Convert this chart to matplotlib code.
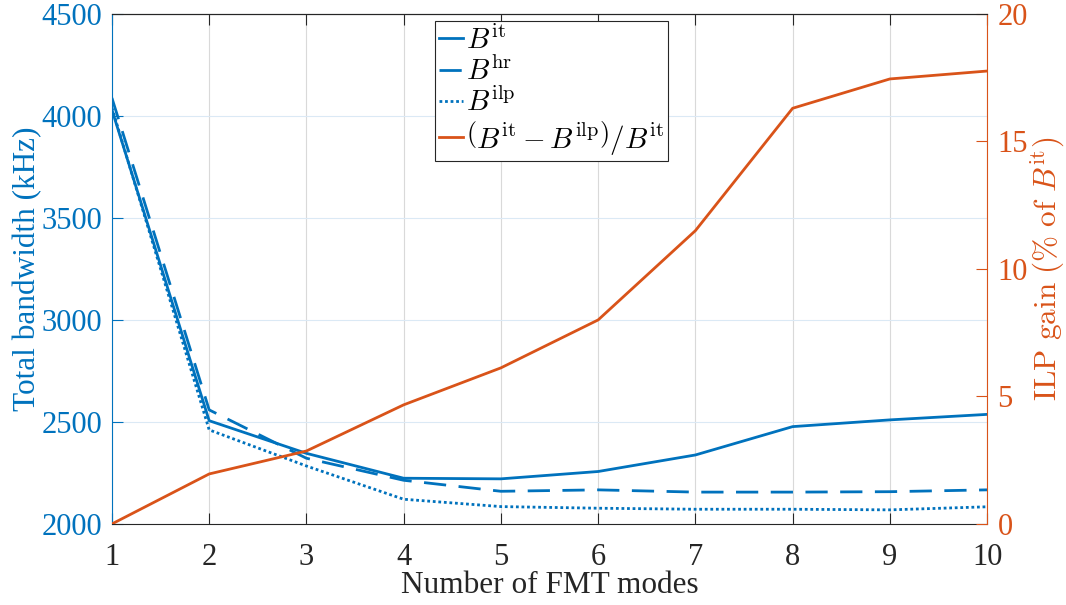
import numpy as np
import matplotlib.pyplot as plt
from matplotlib.lines import Line2D

plt.rcParams['font.family'] = ['Liberation Serif', 'DejaVu Serif']
plt.rcParams['mathtext.fontset'] = 'cm'

modes = [1, 2, 3, 4, 5, 6, 7, 8, 9, 10]
b_it = [4030, 2506, 2346, 2224, 2221, 2257, 2338, 2477, 2510, 2537]
b_hr = [4088, 2559, 2322, 2214, 2160, 2167, 2156, 2156, 2158, 2167]
b_ilp = [4040, 2461, 2284, 2121, 2085, 2077, 2072, 2072, 2069, 2084]
gain = [0.0, 1.96, 2.86, 4.67, 6.12, 8.0, 11.5, 16.3, 17.45, 17.76]

blue = '#0072BD'
orange = '#D95319'
dark = '#262626'

fig = plt.figure(figsize=(10.66, 6.05), dpi=100)
ax = fig.add_axes([0.105, 0.134, 0.821, 0.843])
ax2 = ax.twinx()

lw = 2.0
dashed = (0, (8, 4.5))
dotted = (0, (1, 1))
ax.plot(modes, b_it, color=blue, lw=lw, linestyle='-')
ax.plot(modes, b_hr, color=blue, lw=lw, linestyle=dashed)
ax.plot(modes, b_ilp, color=blue, lw=lw, linestyle=dotted)
ax2.plot(modes, gain, color=orange, lw=lw)

ax.set_xlim(1, 10)
ax.set_ylim(2000, 4500)
ax2.set_ylim(0, 20)
ax.set_xticks(modes)
ax.set_yticks(np.arange(2000, 4501, 500))
ax2.set_yticks([0, 5, 10, 15, 20])

# grid: vertical gray, horizontal tinted with left axis colour
ax.xaxis.grid(True, color='#d9d9d9', lw=0.8)
ax.yaxis.grid(True, color='#dbe9f5', lw=0.8)
ax.set_axisbelow(True)

for a in (ax, ax2):
    a.tick_params(direction='in', length=8, width=0.8, labelsize=22)
ax.tick_params(axis='x', top=True, colors=dark, pad=14)
ax.tick_params(axis='y', colors=blue, pad=7)
ax2.tick_params(axis='y', colors=orange, pad=7.5)

ax.spines['left'].set_color(blue)
ax.spines['right'].set_visible(False)
ax.spines['bottom'].set_color(dark)
ax.spines['top'].set_color(dark)
ax2.spines['left'].set_visible(False)
ax2.spines['right'].set_color(orange)
ax2.spines['bottom'].set_visible(False)
ax2.spines['top'].set_color(dark)

ax.set_xlabel('Number of FMT modes', fontsize=22.5, color=dark)
ax.set_ylabel('Total bandwidth (kHz)', fontsize=22.5, color=blue)
ax2.set_ylabel(r'$\mathrm{ILP\ gain\ (\%\ of\ }B^{\mathrm{it}}\mathrm{)}$',
               fontsize=22.5, color=orange)
ax.xaxis.set_label_coords(0.5, -0.092)
ax.yaxis.set_label_coords(-0.080, 0.5)
ax2.yaxis.set_label_coords(1.047, 0.5)

handles = [
    Line2D([], [], color=blue, lw=lw, linestyle='-'),
    Line2D([], [], color=blue, lw=lw, linestyle=dashed),
    Line2D([], [], color=blue, lw=lw, linestyle=dotted),
    Line2D([], [], color=orange, lw=lw),
]
labels = [r'$B^{\mathrm{it}}$', r'$B^{\mathrm{hr}}$', r'$B^{\mathrm{ilp}}$',
          r'$\left(B^{\mathrm{it}}-B^{\mathrm{ilp}}\right)/B^{\mathrm{it}}$']
leg = ax2.legend(handles, labels, loc='upper left',
                 bbox_to_anchor=(435 / 1066, 1 - 21 / 605),
                 bbox_transform=fig.transFigure, fontsize=21,
                 handlelength=0.8, handletextpad=0.1, labelspacing=0.05,
                 borderaxespad=0, borderpad=0.15, fancybox=False, framealpha=1)
leg.get_frame().set_edgecolor(dark)
leg.get_frame().set_linewidth(0.8)

plt.savefig('out.png', dpi=100)
